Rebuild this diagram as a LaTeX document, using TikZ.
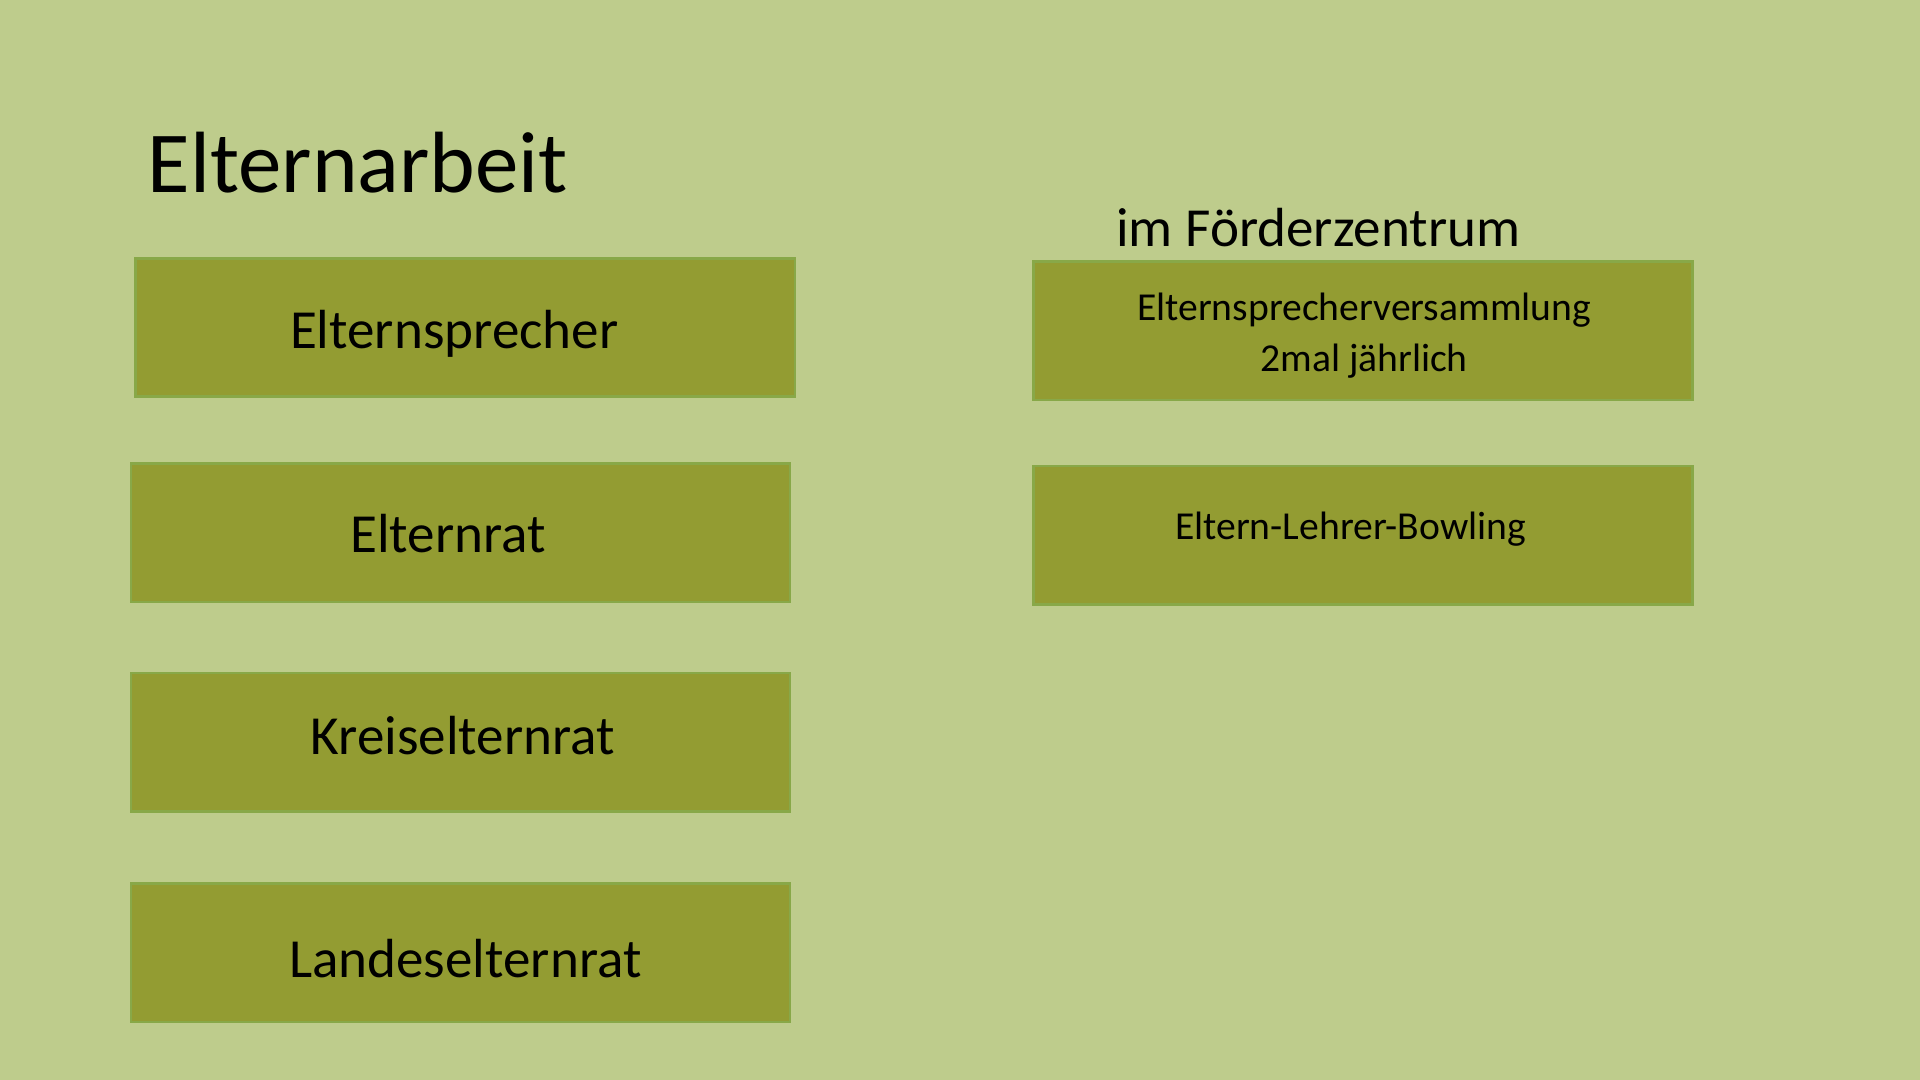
\documentclass[tikz,border=0pt]{standalone}
\usepackage{fontspec}
\setmainfont{Carlito}
\definecolor{slidebg}{HTML}{BECC8C}
\definecolor{boxfill}{HTML}{939C32}
\definecolor{boxline}{HTML}{88A848}
\begin{document}
\begin{tikzpicture}[x=0.01cm, y=-0.01cm,
		box/.style={draw=boxline, line width=0.6pt, fill=boxfill, rectangle,
			minimum width=5.38cm, minimum height=1.13cm, inner sep=0pt},
		bigtext/.style={font=\fontsize{12.8}{15}\selectfont},
		smalltext/.style={font=\fontsize{9.2}{11.7}\selectfont, align=center}]
		\def\xright{1113} % Centre of the right column
		
		% Slide background
		\fill[slidebg] (0,0) rectangle (1568,882);
		
		\node[anchor=base west, inner sep=0pt, font=\fontsize{20.2}{24}\selectfont] (title) at (120,157) {Elternarbeit};
		
		% Left column: one box per level, text shifted as on the slide
		\foreach \name/\x/\y/\dx/\dy/\txt in {sprecher/380/267.5/-0.09/-0.05/Elternsprecher,
			rat/376/435/-0.10/-0.01/Elternrat,
			kreis/376/606/0.02/0.05/Kreiselternrat,
			land/376/778/0.04/-0.05/Landeselternrat} {
			\node[box, label={[bigtext, xshift=\dx cm, yshift=\dy cm]center:\txt}] (\name) at (\x,\y) {};
		}
		
		% Right column
		\node[anchor=base west, inner sep=0pt, font=\fontsize{12.8}{15}\selectfont] (foerder) at (911,201) {im Förderzentrum};
		\node[box, label={[smalltext, xshift=0.01cm, yshift=-0.04cm]center:Elternsprecherversammlung\\2mal jährlich}] (versammlung) at (\xright,270) {};
		\node[box, label={[smalltext, xshift=-0.10cm, yshift=0.05cm]center:Eltern-Lehrer-Bowling}] (bowling) at (\xright,437) {};
	\end{tikzpicture}
\end{document}
